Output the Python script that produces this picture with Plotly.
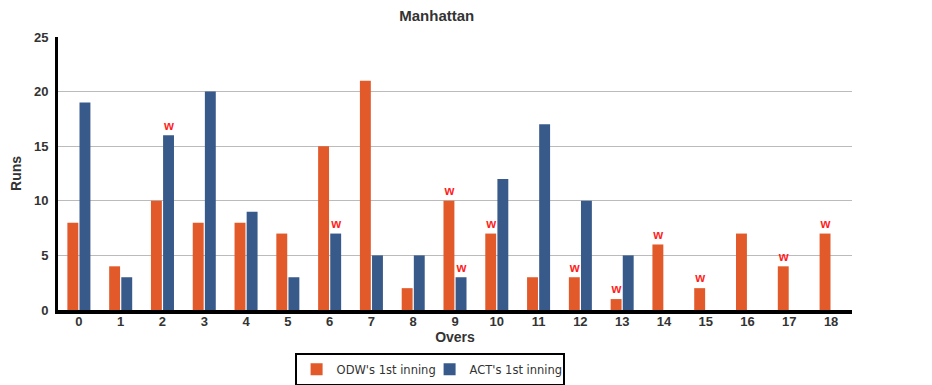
import plotly.graph_objects as go

overs = list(range(19))
odw_runs = [8, 4, 10, 8, 8, 7, 15, 21, 2, 10, 7, 3, 3, 1, 6, 2, 7, 4, 7]
act_runs = [19, 3, 16, 20, 9, 3, 7, 5, 5, 3, 12, 17, 10, 5, None, None, None, None, None]
odw_wkts = ["", "", "", "", "", "", "", "", "", "w", "w", "", "w", "w", "w", "w", "", "w", "w"]
act_wkts = ["", "", "w", "", "", "", "w", "", "", "w", "", "", "", "", "", "", "", "", ""]

orange = "#E2592A"
blue = "#385A8A"
wfont = dict(color="#FF1F1F", size=14, family="Liberation Sans", weight="bold")

fig = go.Figure()
fig.add_trace(go.Bar(x=overs, y=odw_runs, name="ODW's 1st inning", marker_color=orange,
                     text=odw_wkts, textposition="outside", cliponaxis=False,
                     outsidetextfont=wfont, marker_line_width=0))
fig.add_trace(go.Bar(x=overs, y=act_runs, name="ACT's 1st inning", marker_color=blue,
                     text=act_wkts, textposition="outside", cliponaxis=False,
                     outsidetextfont=wfont, marker_line_width=0))

fig.update_layout(
    width=924, height=377,
    margin=dict(l=50, r=80, t=29, b=75, autoexpand=False),
    paper_bgcolor="white", plot_bgcolor="white",
    barmode="group", bargap=0.42, bargroupgap=0.1,
    title=dict(text="<b>Manhattan</b>", x=0.464, xanchor="center", y=0.979, yanchor="middle",
               font=dict(family="Liberation Sans", size=15, color="#333333")),
    xaxis=dict(title=dict(text="<b>Overs</b>", font=dict(family="Liberation Sans", size=14, color="#333333"), standoff=0),
               tickmode="array", tickvals=overs, ticktext=[str(o) for o in overs],
               tickfont=dict(family="Liberation Sans", size=13, color="#333333", weight="bold"),
               ticklabelstandoff=-4,
               showline=True, linecolor="black", linewidth=4, showgrid=False,
               range=[-0.5, 18.5], ticks="", automargin=False),
    yaxis=dict(title=dict(text="<b>Runs</b>", font=dict(family="Liberation Sans", size=14, color="#333333"), standoff=10),
               range=[0, 25], tickvals=[0, 5, 10, 15, 20, 25],
               tickfont=dict(family="Liberation Sans", size=13, color="#333333", weight="bold"),
               ticklabelstandoff=4,
               showline=True, linecolor="black", linewidth=3, showgrid=True, gridcolor="#BBBBBB",
               gridwidth=1, zeroline=False, ticks="", automargin=False),
    legend=dict(orientation="h", x=0.468, xanchor="center", y=-0.157, yanchor="top",
                bordercolor="black", borderwidth=2, bgcolor="white",
                font=dict(family="DejaVu Sans", size=11.5, color="#333333"),
                itemwidth=30, tracegroupgap=0, entrywidth=88),
    font=dict(family="Liberation Sans"),
)
fig.write_html("out.html")
